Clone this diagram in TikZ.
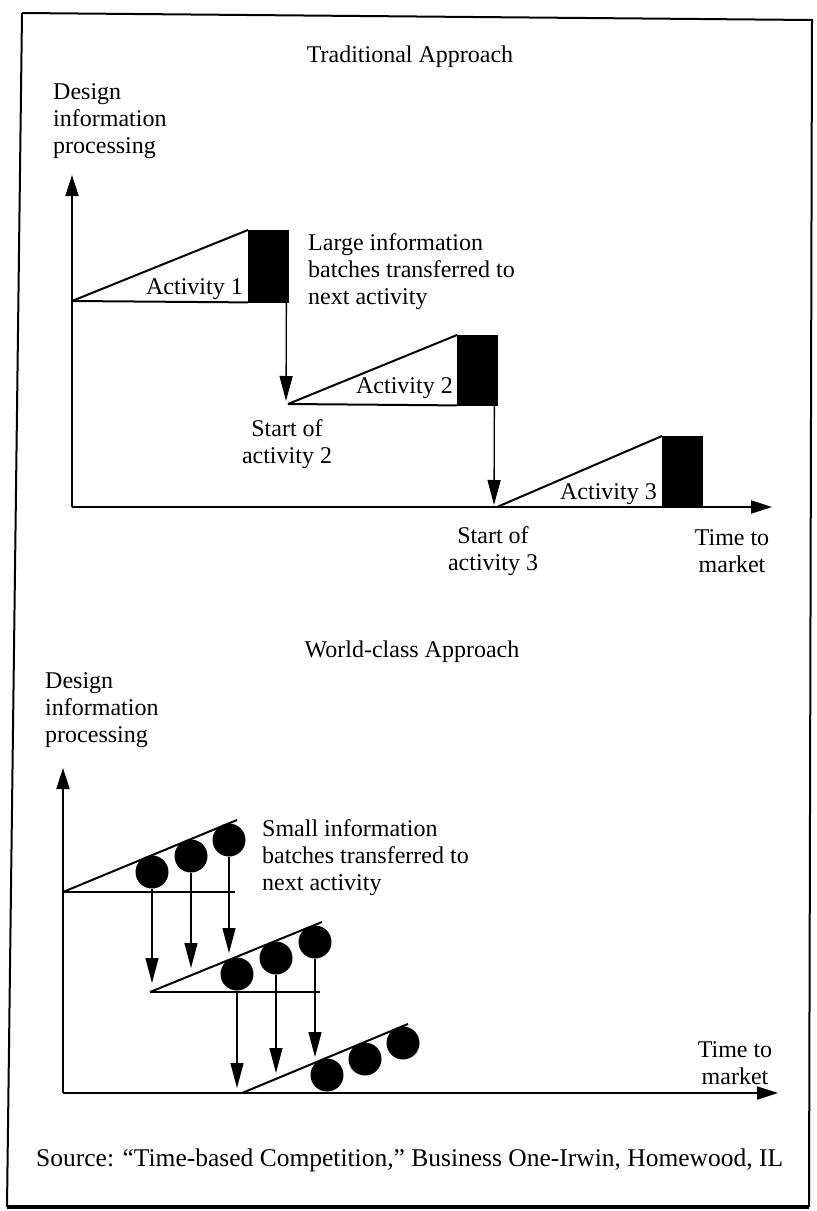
\documentclass[tikz,border=0pt]{standalone}
\usepackage{fontspec}
\setmainfont{Liberation Serif}
\usetikzlibrary{arrows.meta}
\begin{document}
\begin{tikzpicture}[x=1pt,y=-1pt,
  lbl/.style={font=\fontsize{24}{27}\selectfont, inner sep=0pt},
  axis/.style={line width=2pt, -{Triangle[length=21pt,width=13pt]}},
  ramp/.style={line width=2pt},
  xfer/.style={line width=1.3pt, -{Triangle[length=25pt,width=13pt]}},
  batch/.style={fill=black, draw=black, inner sep=0pt, minimum width=40pt, anchor=north west},
  dot/.style={circle, fill=black, inner sep=0pt, minimum size=33pt},
  frame/.style={line width=2pt}]
\useasboundingbox (0,0) rectangle (817,1211);

% outer frame
\draw[frame] (22,13) -- (812,20) -- (809,1207);
\draw[frame] (22,13) -- (7,1207);
\draw[line width=3.5pt] (7,1207) -- (809,1207);

% ---------- traditional approach ----------
\node[lbl] (t1) at (410,57) {Traditional Approach};
\node[lbl, anchor=west, align=left] (yl1) at (53,121) {Design\\information\\processing};

\coordinate (o1) at (72,507);
\coordinate (yt1) at (72,175);
\coordinate (xt1) at (772,507);
\draw[axis] (o1) -- (yt1);
\draw[axis] (o1) -- (xt1);

% activity 1
\coordinate (s1) at (72,301);
\node[batch, minimum height=72pt] (b1) at (248,230) {};
\draw[ramp] (s1) -- (b1.north west);
\draw[ramp] (s1) -- (b1.south west);
\node[lbl, anchor=east] (l1) at (243,289) {Activity 1};

% activity 2
\coordinate (s2) at (288,404);
\coordinate (h2) at (286,401);
\node[batch, minimum height=70pt] (b2) at (457,335) {};
\draw[ramp] (s2) -- (b2.north west);
\draw[ramp] (s2) -- (b2.south west);
\node[lbl, anchor=east] (l2) at (453,388) {Activity 2};
\draw[xfer] ([xshift=-2pt]b1.south east) -- (h2);

% activity 3
\coordinate (s3) at (497,507);
\coordinate (h3) at (494,505);
\node[batch, minimum height=71pt] (b3) at (662,436) {};
\draw[ramp] (s3) -- (b3.north west);
\node[lbl, anchor=east] (l3) at (657,494) {Activity 3};
\draw[xfer] ([xshift=-3pt]b2.south east) -- (h3);

\node[lbl, anchor=west, align=left] (big) at (308,272) {Large information\\batches transferred to\\next activity};
\node[lbl, align=center] (st2) at (287,444) {Start of\\activity 2};
\node[lbl, align=center] (st3) at (493,551) {Start of\\activity 3};
\node[lbl, align=center] (tm1) at (732,551) {Time to\\market};

% ---------- world-class approach ----------
\node[lbl] (t2) at (412,652) {World-class Approach};
\node[lbl, anchor=west, align=left] (yl2) at (45,710) {Design\\information\\processing};

\coordinate (o2) at (63,1093);
\coordinate (yt2) at (63,768);
\coordinate (xt2) at (778,1093);
\draw[axis] (o2) -- (yt2);
\draw[axis] (o2) -- (xt2);

% first activity
\coordinate (p1) at (63,892);
\coordinate (q1) at (237,820);
\coordinate (e1) at (235,892);
\draw[ramp] (p1) -- (q1);
\draw[ramp] (p1) -- (e1);
\node[dot] (c11) at (152,872) {};
\node[dot] (c12) at (191,856) {};
\node[dot] (c13) at (229,840) {};

% second activity
\coordinate (p2) at (150,992);
\coordinate (q2) at (322,922);
\coordinate (e2) at (320,992);
\draw[ramp] (p2) -- (q2);
\draw[ramp] (p2) -- (e2);
\node[dot] (c21) at (237,974) {};
\node[dot] (c22) at (276,958) {};
\node[dot] (c23) at (315,942) {};

% third activity
\coordinate (p3) at (242,1093);
\coordinate (q3) at (408,1024);
\draw[ramp] (p3) -- (q3);
\node[dot] (c31) at (327,1075) {};
\node[dot] (c32) at (365,1059) {};
\node[dot] (c33) at (403,1043) {};

% small batches handed on
\coordinate (k11) at (152,983);
\coordinate (k12) at (191,968);
\coordinate (k13) at (229,953);
\coordinate (k21) at (237,1088);
\coordinate (k22) at (276,1073);
\coordinate (k23) at (315,1057);
\draw[xfer] (c11.south) -- (k11);
\draw[xfer] (c12.south) -- (k12);
\draw[xfer] (c13.south) -- (k13);
\draw[xfer] (c21.south) -- (k21);
\draw[xfer] (c22.south) -- (k22);
\draw[xfer] (c23.south) -- (k23);

\node[lbl, anchor=west, align=left] (small) at (262,858) {Small information\\batches transferred to\\next activity};
\node[lbl, align=center] (tm2) at (735,1063) {Time to\\market};

\node[lbl, anchor=west, font=\fontsize{25.5}{28}\selectfont] (src) at (36,1160) {Source: ``Time-based Competition,'' Business One-Irwin, Homewood, IL};
\end{tikzpicture}
\end{document}
